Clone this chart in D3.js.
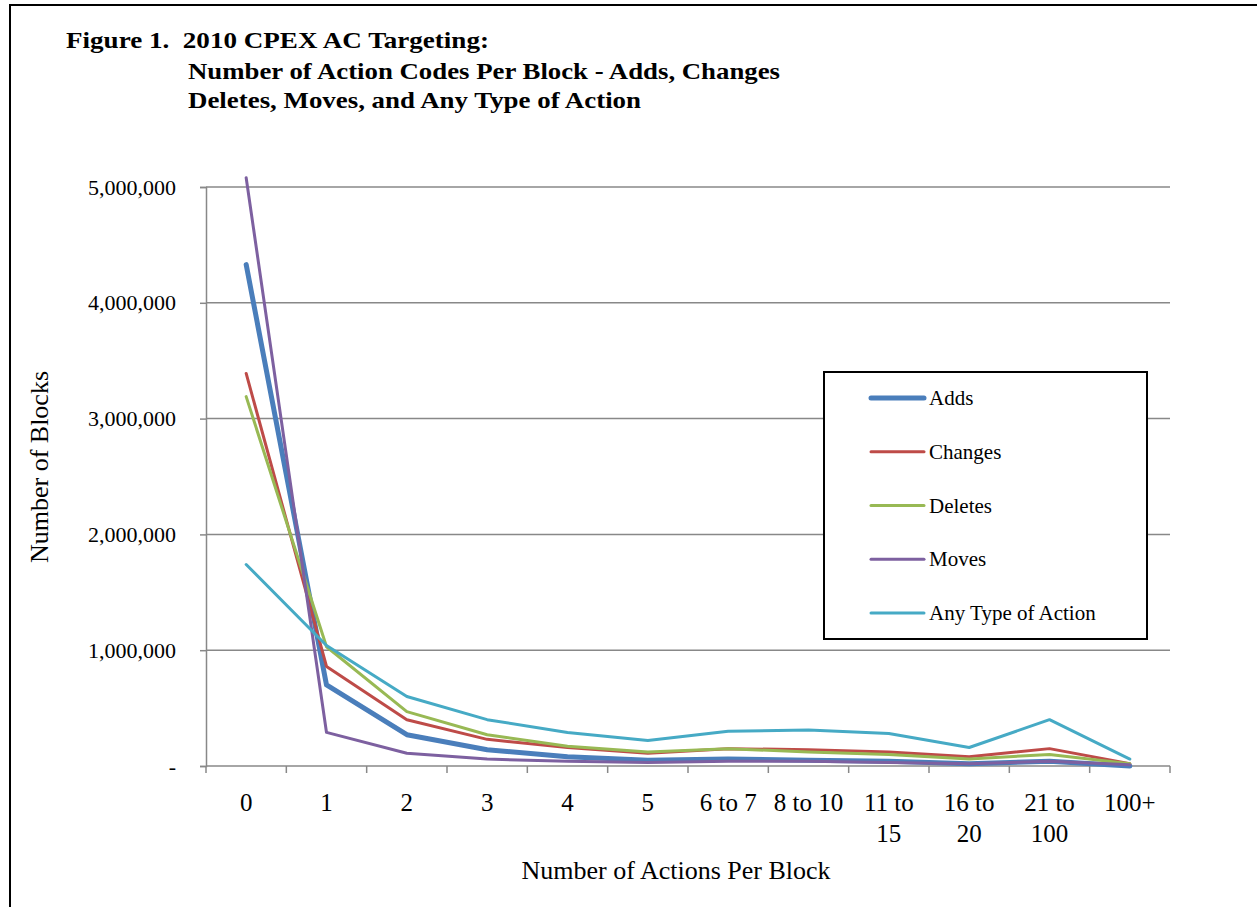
<!DOCTYPE html>
<html>
<head>
<meta charset="utf-8">
<script src="https://cdn.jsdelivr.net/npm/d3@7"></script>
<style>
  body { margin: 0; background: #fff; }
  svg { display: block; font-family: "Liberation Serif", "Times New Roman", serif; }
</style>
</head>
<body>
<div id="chart"></div>
<script>
// --- DATA ---
const categories = ["0", "1", "2", "3", "4", "5", "6 to 7", "8 to 10", "11 to 15", "16 to 20", "21 to 100", "100+"];
const adds    = [4330000, 700000, 270000, 140000, 80000, 50000, 60000, 50000, 40000, 20000, 40000, 0];
const changes = [3390000, 860000, 400000, 230000, 160000, 110000, 150000, 140000, 120000, 80000, 150000, 20000];
const deletes = [3190000, 1030000, 470000, 270000, 170000, 120000, 150000, 120000, 100000, 60000, 100000, 20000];
const moves   = [5080000, 290000, 110000, 60000, 40000, 30000, 40000, 40000, 30000, 20000, 40000, 10000];
const anyType = [1740000, 1040000, 600000, 400000, 290000, 220000, 300000, 310000, 280000, 160000, 400000, 60000];
const yTicks = [0, 1000000, 2000000, 3000000, 4000000, 5000000];

const series = [
    { name: "Adds", values: adds, color: "#4a7ebb", width: 5 },
    { name: "Changes", values: changes, color: "#be4b48", width: 3 },
    { name: "Deletes", values: deletes, color: "#98b954", width: 3 },
    { name: "Moves", values: moves, color: "#7d60a0", width: 3 },
    { name: "Any Type of Action", values: anyType, color: "#46aac5", width: 3 }
];

// --- SETUP ---
const width = 1257, height = 907;
const plot = { left: 206, right: 1170, top: 187, bottom: 766 };

const svg = d3.select("#chart").append("svg")
    .attr("width", width)
    .attr("height", height);

// frame
svg.append("rect")
    .attr("x", 10).attr("y", 5)
    .attr("width", 1260).attr("height", 920)
    .attr("fill", "none")
    .attr("stroke", "#000")
    .attr("stroke-width", 2);

// title
const title = svg.append("g")
    .attr("font-weight", "bold")
    .attr("font-size", "24px")
    .attr("fill", "#000");
title.append("text").attr("x", 66).attr("y", 48).attr("xml:space", "preserve")
    .attr("textLength", 423).attr("lengthAdjust", "spacingAndGlyphs")
    .text("Figure 1.  2010 CPEX AC Targeting:");
title.append("text").attr("x", 188).attr("y", 79)
    .attr("textLength", 592).attr("lengthAdjust", "spacingAndGlyphs")
    .text("Number of Action Codes Per Block - Adds, Changes");
title.append("text").attr("x", 188).attr("y", 108)
    .attr("textLength", 453).attr("lengthAdjust", "spacingAndGlyphs")
    .text("Deletes, Moves, and Any Type of Action");

// --- SCALES ---
const x = d3.scaleBand()
    .domain(categories)
    .range([plot.left, plot.right])
    .padding(0);

const y = d3.scaleLinear()
    .domain([0, 5000000])
    .range([plot.bottom, plot.top]);

// gridlines
svg.append("g")
    .selectAll("line")
    .data(yTicks.slice(1))
    .join("line")
    .attr("x1", plot.left).attr("x2", plot.right)
    .attr("y1", d => y(d)).attr("y2", d => y(d))
    .attr("stroke", "#888")
    .attr("stroke-width", 1.5);

// --- AXES ---
const yAxis = svg.append("g")
    .attr("transform", `translate(${plot.left},0)`)
    .call(d3.axisLeft(y)
        .tickValues(yTicks)
        .tickSize(6)
        .tickPadding(24)
        .tickFormat(d => d === 0 ? "-" : d3.format(",")(d)));
yAxis.select(".domain").attr("stroke", "#888").attr("stroke-width", 1.5);
yAxis.selectAll(".tick line").attr("stroke", "#888").attr("stroke-width", 1.5);
yAxis.selectAll(".tick text")
    .attr("font-family", "Liberation Serif, Times New Roman, serif")
    .attr("font-size", "22px")
    .attr("fill", "#000");

const xAxis = svg.append("g")
    .attr("transform", `translate(0,${plot.bottom})`);
xAxis.append("line")
    .attr("x1", plot.left).attr("x2", plot.right)
    .attr("stroke", "#888").attr("stroke-width", 1.5);
const boundaries = categories.map(c => x(c)).concat([plot.right]);
xAxis.selectAll("line.tk")
    .data(boundaries)
    .join("line")
    .attr("class", "tk")
    .attr("x1", d => d).attr("x2", d => d)
    .attr("y1", 0).attr("y2", 7)
    .attr("stroke", "#888").attr("stroke-width", 1.5);

// category labels, wrapped the way the reference does
function wrapLabel(c) {
    if (c === "6 to 7" || c === "8 to 10") return [c];
    const m = c.match(/^(\d+ to) (\d+)$/);
    return m ? [m[1], m[2]] : [c];
}
const xl = xAxis.selectAll("text.cat")
    .data(categories)
    .join("text")
    .attr("class", "cat")
    .attr("text-anchor", "middle")
    .attr("font-size", "25px")
    .attr("fill", "#000");
xl.each(function(c) {
    const lines = wrapLabel(c);
    d3.select(this).selectAll("tspan")
        .data(lines)
        .join("tspan")
        .attr("x", x(c) + x.bandwidth() / 2)
        .attr("y", (d, i) => 45 + i * 31)
        .text(d => d);
});

// axis titles
svg.append("text")
    .attr("x", 676).attr("y", 879)
    .attr("text-anchor", "middle")
    .attr("font-size", "26px")
    .text("Number of Actions Per Block");

svg.append("text")
    .attr("transform", "translate(48,467) rotate(-90)")
    .attr("text-anchor", "middle")
    .attr("font-size", "26px")
    .text("Number of Blocks");

// --- LINES ---
const line = d3.line()
    .x((d, i) => x(categories[i]) + x.bandwidth() / 2)
    .y(d => y(d));

svg.append("g")
    .selectAll("path")
    .data(series)
    .join("path")
    .attr("d", d => line(d.values))
    .attr("fill", "none")
    .attr("stroke", d => d.color)
    .attr("stroke-width", d => d.width)
    .attr("stroke-linejoin", "round")
    .attr("stroke-linecap", "round");

// --- LEGEND ---
const legend = svg.append("g");
legend.append("rect")
    .attr("x", 824).attr("y", 372)
    .attr("width", 323).attr("height", 267)
    .attr("fill", "#fff")
    .attr("stroke", "#000")
    .attr("stroke-width", 2);

const legendY = d3.scalePoint()
    .domain(series.map(d => d.name))
    .range([398, 613]);

const item = legend.selectAll("g.item")
    .data(series)
    .join("g")
    .attr("class", "item")
    .attr("transform", d => `translate(0,${legendY(d.name)})`);
item.append("line")
    .attr("x1", 871).attr("x2", 924)
    .attr("stroke", d => d.color)
    .attr("stroke-width", d => d.width)
    .attr("stroke-linecap", "round");
item.append("text")
    .attr("x", 929).attr("y", 7)
    .attr("font-size", "21px")
    .attr("fill", "#000")
    .text(d => d.name);
</script>
</body>
</html>
